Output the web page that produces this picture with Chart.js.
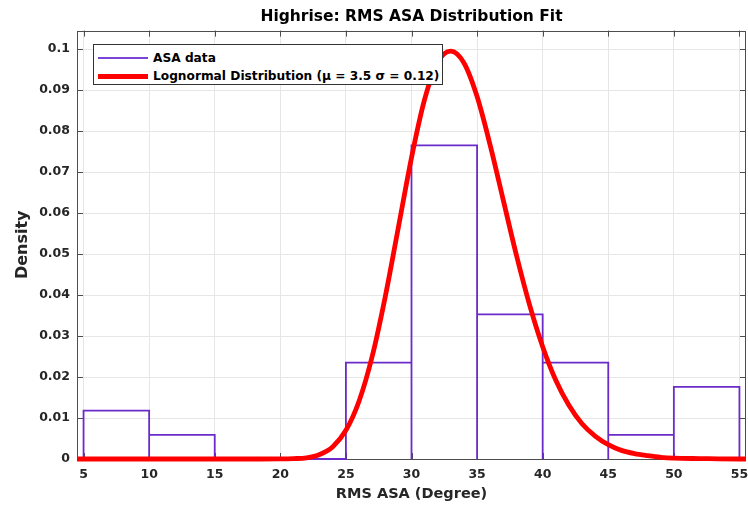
<!DOCTYPE html>
<html><head><meta charset="utf-8">
<script src="https://cdn.jsdelivr.net/npm/chart.js@4"></script>
<style>
html,body{margin:0;padding:0;background:#fff;}
#wrap{position:relative;width:748px;height:507px;}
#legend{position:absolute;left:93px;top:44px;width:350px;height:41px;border:1px solid #333;background:#fff;box-sizing:border-box;font:bold 12.2px "DejaVu Sans",sans-serif;color:#000;}
.row{position:absolute;left:0;height:18px;display:flex;align-items:center;white-space:nowrap;}
.sw{display:inline-block;width:50px;margin-left:4px;margin-right:5px;}
</style>
</head><body>
<div id="wrap">
<canvas id="c" width="748" height="507"></canvas>
<div id="legend">
 <div class="row" style="top:4px"><span class="sw" style="height:2px;background:#7a45d6"></span><span>ASA data</span></div>
 <div class="row" style="top:22px"><span class="sw" style="height:5px;background:#ff0000"></span><span>Lognormal Distribution (μ = 3.5 σ = 0.12)</span></div>
</div>
</div>
<script>
const binEdges=[5,10,15,20,25,30,35,40,45,50,55];
const binDensity=[0.0118,0.0059,0,0,0.0235,0.0765,0.0353,0.0235,0.0059,0.0176];
const fitX=[4.5,5,10,15,18,20,21,22,23,24,25,26,27,28,29,30,31,32,33,34,35,36,37,38,39,40,41,42,43,44,45,46,47,48,49,50,52,55,55.5];
const fitY=[0,0,0,0,0,0.00002,0.0001,0.0003,0.0011,0.0030,0.0070,0.0141,0.0250,0.0396,0.0565,0.0735,0.0877,0.0968,0.0995,0.0966,0.0884,0.0765,0.0631,0.0497,0.0376,0.0274,0.0192,0.0131,0.0086,0.0056,0.0035,0.0021,0.0013,0.0008,0.0004,0.0002,0.0001,0,0];
const xTicks=[5,10,15,20,25,30,35,40,45,50,55];
const yTicks=[0,0.01,0.02,0.03,0.04,0.05,0.06,0.07,0.08,0.09,0.1];

// histogram outline built from bin edges and densities
const histOutline=[];
binDensity.forEach((h,i)=>{
  histOutline.push({x:binEdges[i],y:0},{x:binEdges[i],y:h},{x:binEdges[i+1],y:h},{x:binEdges[i+1],y:0});
});

const FONT="DejaVu Sans";
const boxPlugin={id:'box',beforeDatasetsDraw(chart){
  const {ctx,chartArea:a,scales:{x,y}}=chart;
  ctx.save();ctx.strokeStyle='#4d4d4d';ctx.lineWidth=1;
  ctx.beginPath();
  xTicks.forEach(v=>{const px=Math.round(x.getPixelForValue(v))+0.5;
    ctx.moveTo(px,a.bottom);ctx.lineTo(px,a.bottom-6);
    ctx.moveTo(px,a.top);ctx.lineTo(px,a.top+6);});
  yTicks.forEach(v=>{const py=Math.round(y.getPixelForValue(v))+0.5;
    ctx.moveTo(a.left,py);ctx.lineTo(a.left+6,py);
    ctx.moveTo(a.right,py);ctx.lineTo(a.right-6,py);});
  ctx.stroke();
  ctx.strokeRect(Math.round(a.left)+0.5,Math.round(a.top)+0.5,Math.round(a.right-a.left)-1,Math.round(a.bottom-a.top));
  ctx.restore();
}};

new Chart(document.getElementById('c'),{
  type:'scatter',
  data:{datasets:[
    {type:'line',label:'Lognormal Distribution',data:fitX.map((v,i)=>({x:v,y:fitY[i]})),borderColor:'#ff0000',borderWidth:4.8,pointRadius:0,cubicInterpolationMode:'monotone',fill:false,order:0,clip:8},
    {type:'line',label:'ASA data',data:histOutline,borderColor:'#6b2bc9',borderWidth:1.8,pointRadius:0,tension:0,fill:false,order:1,clip:4,borderJoinStyle:'miter'}
  ]},
  options:{
    responsive:false,animation:false,
    layout:{padding:{left:0,right:2,top:0,bottom:0}},
    plugins:{legend:{display:false},tooltip:{enabled:false},
      title:{display:true,text:'Highrise: RMS ASA Distribution Fit',fullSize:false,color:'#000',font:{family:FONT,size:15.5,weight:'bold'},padding:{top:8,bottom:4}}},
    scales:{
      x:{type:'linear',min:4.5,max:55.5,offset:false,
        afterBuildTicks:s=>{s.ticks=xTicks.map(v=>({value:v}));},
        afterFit:s=>{s.height=48;s.paddingLeft=0;s.paddingRight=0;},
        grid:{color:'#e6e6e6',drawTicks:false,offset:false},border:{display:false},
        ticks:{padding:8,color:'#262626',font:{family:FONT,size:12.5,weight:'bold'},callback:v=>String(v),maxRotation:0,autoSkip:false},
        title:{display:true,text:'RMS ASA (Degree)',color:'#262626',font:{family:FONT,size:14.5,weight:'bold'},padding:{top:0,bottom:4}}},
      y:{type:'linear',min:0,max:0.1045,
        afterBuildTicks:s=>{s.ticks=yTicks.map(v=>({value:v}));},
        afterFit:s=>{s.width=77;s.paddingTop=0;s.paddingBottom=0;},
        grid:{color:'#e6e6e6',drawTicks:false},border:{display:false},
        ticks:{padding:7,color:'#262626',font:{family:FONT,size:12.5,weight:'bold'},callback:v=>String(v),autoSkip:false},
        title:{display:true,text:'Density',color:'#262626',font:{family:FONT,size:16,weight:'bold'},padding:{top:13,bottom:0}}}
    }
  },
  plugins:[boxPlugin]
});
</script>
</body></html>
